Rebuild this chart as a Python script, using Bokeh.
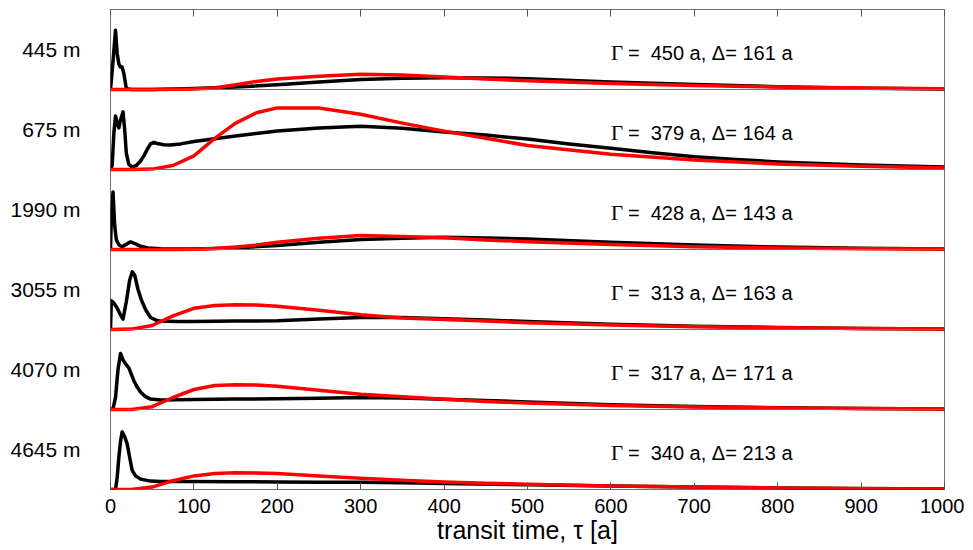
from bokeh.plotting import figure
from bokeh.models import ColumnDataSource, LinearAxis, FixedTicker, Span, CustomJSTickFormatter
from bokeh.transform import dodge
from bokeh.core.properties import value
from bokeh.embed import file_html
from bokeh.resources import INLINE

# ---------------- data ----------------
depth_labels = ["445 m", "675 m", "1990 m", "3055 m", "4070 m", "4645 m"]
gamma_vals = [450, 379, 428, 313, 317, 340]
delta_vals = [161, 164, 143, 163, 171, 213]
x_ticks = [0, 100, 200, 300, 400, 500, 600, 700, 800, 900, 1000]

# black curves (observed transit-time distributions), per panel
black_tau_445 = [0, 3, 6, 8, 10, 12, 14, 16, 19, 25, 50, 100, 150, 200, 250, 300, 350, 400, 450, 500, 600, 700, 800, 900, 1000]
black_val_445 = [0, 0.35, 0.74, 0.45, 0.32, 0.28, 0.28, 0.2, 0.01, 0.0, 0.0, 0.012, 0.03, 0.06, 0.095, 0.125, 0.14, 0.148, 0.145, 0.135, 0.095, 0.062, 0.035, 0.016, 0.006]

black_tau_675 = [0, 2, 4, 6, 8, 10, 12, 15, 17, 19, 22, 26, 31, 36, 40, 44, 48, 52, 56, 64, 72, 84, 100, 150, 200, 250, 300, 350, 400, 450, 500, 550, 600, 650, 700, 750, 800, 900, 1000]
black_val_675 = [0, 0.05, 0.45, 0.67, 0.58, 0.52, 0.62, 0.72, 0.5, 0.2, 0.065, 0.03, 0.05, 0.106, 0.17, 0.25, 0.32, 0.34, 0.325, 0.31, 0.305, 0.32, 0.35, 0.42, 0.48, 0.52, 0.54, 0.515, 0.47, 0.43, 0.38, 0.32, 0.265, 0.21, 0.16, 0.125, 0.095, 0.055, 0.03]

black_tau_1990 = [0, 1, 3, 5, 7, 10, 14, 18, 24, 30, 36, 45, 60, 100, 150, 200, 250, 300, 350, 400, 450, 500, 600, 700, 800, 900, 1000]
black_val_1990 = [0, 0.4, 0.72, 0.3, 0.12, 0.06, 0.035, 0.06, 0.095, 0.07, 0.04, 0.02, 0.01, 0.005, 0.02, 0.05, 0.09, 0.125, 0.14, 0.152, 0.145, 0.13, 0.09, 0.055, 0.03, 0.015, 0.006]

black_tau_3055 = [0, 1, 4, 8, 12, 15, 19, 23, 26, 29, 33, 37, 42, 48, 55, 60, 80, 100, 150, 200, 250, 300, 350, 400, 450, 500, 600, 700, 800, 900, 1000]
black_val_3055 = [0, 0.36, 0.33, 0.27, 0.18, 0.13, 0.35, 0.62, 0.72, 0.68, 0.5, 0.37, 0.25, 0.15, 0.115, 0.105, 0.1, 0.1, 0.105, 0.11, 0.13, 0.15, 0.15, 0.135, 0.118, 0.1, 0.065, 0.042, 0.025, 0.014, 0.006]

black_tau_4070 = [0, 3, 6, 9, 12, 15, 18, 22, 25, 28, 32, 36, 42, 48, 60, 100, 150, 200, 250, 300, 350, 400, 450, 500, 600, 700, 800, 900, 1000]
black_val_4070 = [0, 0.01, 0.15, 0.5, 0.7, 0.62, 0.57, 0.52, 0.44, 0.36, 0.28, 0.22, 0.16, 0.13, 0.12, 0.125, 0.13, 0.135, 0.14, 0.15, 0.145, 0.127, 0.112, 0.095, 0.06, 0.038, 0.022, 0.012, 0.006]

black_tau_4645 = [0, 6, 8, 10, 12, 14, 17, 20, 23, 26, 30, 36, 48, 60, 100, 150, 200, 250, 300, 350, 400, 500, 600, 700, 800, 900, 1000]
black_val_4645 = [0, 0, 0.15, 0.4, 0.6, 0.72, 0.66, 0.57, 0.4, 0.24, 0.17, 0.13, 0.105, 0.1, 0.1, 0.098, 0.095, 0.092, 0.09, 0.085, 0.075, 0.06, 0.045, 0.032, 0.02, 0.012, 0.006]

# red curves (model fits), common tau grid
red_tau = [0, 25, 50, 75, 100, 125, 150, 175, 200, 250, 300, 350, 400, 450, 500, 600, 700, 800, 900, 1000]
red_val_445 = [0, 0, 0, 0.002, 0.006, 0.018, 0.06, 0.1, 0.13, 0.167, 0.19, 0.18, 0.155, 0.13, 0.11, 0.075, 0.05, 0.032, 0.018, 0.008]
red_val_675 = [0, 0, 0.005, 0.05, 0.17, 0.39, 0.58, 0.71, 0.77, 0.77, 0.69, 0.58, 0.48, 0.39, 0.3, 0.19, 0.12, 0.07, 0.04, 0.02]
red_val_1990 = [0, 0, 0, 0, 0.003, 0.012, 0.03, 0.055, 0.09, 0.14, 0.175, 0.162, 0.146, 0.12, 0.098, 0.062, 0.035, 0.02, 0.01, 0.005]
red_val_3055 = [0, 0.005, 0.05, 0.17, 0.265, 0.3, 0.31, 0.305, 0.29, 0.24, 0.185, 0.145, 0.125, 0.105, 0.085, 0.055, 0.035, 0.022, 0.013, 0.007]
red_val_4070 = [0, 0, 0.035, 0.15, 0.25, 0.3, 0.31, 0.305, 0.29, 0.24, 0.19, 0.16, 0.127, 0.1, 0.08, 0.05, 0.032, 0.02, 0.012, 0.007]
red_val_4645 = [0, 0, 0.03, 0.11, 0.17, 0.2, 0.21, 0.205, 0.2, 0.17, 0.14, 0.115, 0.095, 0.078, 0.065, 0.045, 0.03, 0.02, 0.01, 0.005]

black_series = [
    (black_tau_445, black_val_445), (black_tau_675, black_val_675),
    (black_tau_1990, black_val_1990), (black_tau_3055, black_val_3055),
    (black_tau_4070, black_val_4070), (black_tau_4645, black_val_4645),
]
red_series = [red_val_445, red_val_675, red_val_1990, red_val_3055, red_val_4070, red_val_4645]

# ---------------- figure ----------------
N = len(depth_labels)
FONT = "Liberation Sans"
FRAME_COLOR = "#707070"

p = figure(width=964, height=550, x_range=(0, 1000), y_range=(0, N),
           output_backend="svg", toolbar_location=None,
           min_border_left=110, min_border_right=20, min_border_top=9, min_border_bottom=61,
           x_axis_location=None, y_axis_location=None)
p.xgrid.visible = False
p.ygrid.visible = False
p.outline_line_color = FRAME_COLOR
p.outline_line_width = 1
p.background_fill_color = "white"
p.border_fill_color = "white"

# bottom axis
xb = LinearAxis(ticker=FixedTicker(ticks=x_ticks), axis_label="transit time, \u03c4 [a]")
xb.major_tick_in = 7
xb.major_tick_out = 0
xb.minor_tick_in = 0
xb.minor_tick_out = 0
xb.major_tick_line_color = "#555555"
xb.axis_line_color = None
xb.major_label_text_font = FONT
xb.major_label_text_font_size = "20px"
xb.major_label_text_color = "black"
xb.major_label_standoff = 9
xb.axis_label_text_font = FONT
xb.axis_label_text_font_size = "25px"
xb.axis_label_text_font_style = "normal"
xb.axis_label_text_color = "black"
xb.axis_label_standoff = 0
p.add_layout(xb, "below")

# top axis: ticks only
xt = LinearAxis(ticker=FixedTicker(ticks=x_ticks))
xt.formatter = CustomJSTickFormatter(code="return ''")
xt.major_tick_in = 7
xt.major_tick_out = 0
xt.minor_tick_in = 0
xt.minor_tick_out = 0
xt.major_tick_line_color = "#555555"
xt.axis_line_color = None
xt.major_label_standoff = 0
p.add_layout(xt, "above")

# left axis: depth labels at panel centres
centres = [N - 1 - k + 0.5 for k in range(N)]
yl = LinearAxis(ticker=FixedTicker(ticks=centres))
yl.major_label_overrides = {c: lab for c, lab in zip(centres, depth_labels)}
yl.major_tick_line_color = None
yl.minor_tick_line_color = None
yl.axis_line_color = None
yl.major_label_text_font = FONT
yl.major_label_text_font_size = "21px"
yl.major_label_text_color = "black"
yl.major_label_standoff = 24
yl.major_label_orientation = "horizontal"
p.add_layout(yl, "left")

# panel separators
for k in range(1, N):
    p.add_layout(Span(location=k, dimension="width", line_color=FRAME_COLOR, line_width=1))

for k in range(N):
    offset = N - 1 - k
    btau, bval = black_series[k]
    bsrc = ColumnDataSource(dict(tau=btau, val=bval))
    rsrc = ColumnDataSource(dict(tau=red_tau, val=red_series[k]))
    p.line(x="tau", y=dodge("val", offset, range=p.y_range), source=bsrc,
           line_color="black", line_width=3.5, line_join="round")
    p.line(x="tau", y=dodge("val", offset, range=p.y_range), source=rsrc,
           line_color="#ff0000", line_width=3.5, line_join="round")

# annotations
ann_src = ColumnDataSource(dict(
    x=[600] * N,
    y=centres,
    g=["\u0393"] * N,
    t=["= \u00a0%d a, \u0394= %d a" % (g, d) for g, d in zip(gamma_vals, delta_vals)],
))
p.text(x="x", y="y", text="g", source=ann_src, text_font=value("Liberation Serif"),
       text_font_size="21px", text_baseline="middle", text_align="left",
       text_color="black", y_offset=3)
p.text(x="x", y="y", text="t", source=ann_src, text_font=value(FONT),
       text_font_size="20px", text_baseline="middle", text_align="left",
       text_color="black", x_offset=17, y_offset=3)

open("out.html", "w").write(file_html(p, INLINE))
